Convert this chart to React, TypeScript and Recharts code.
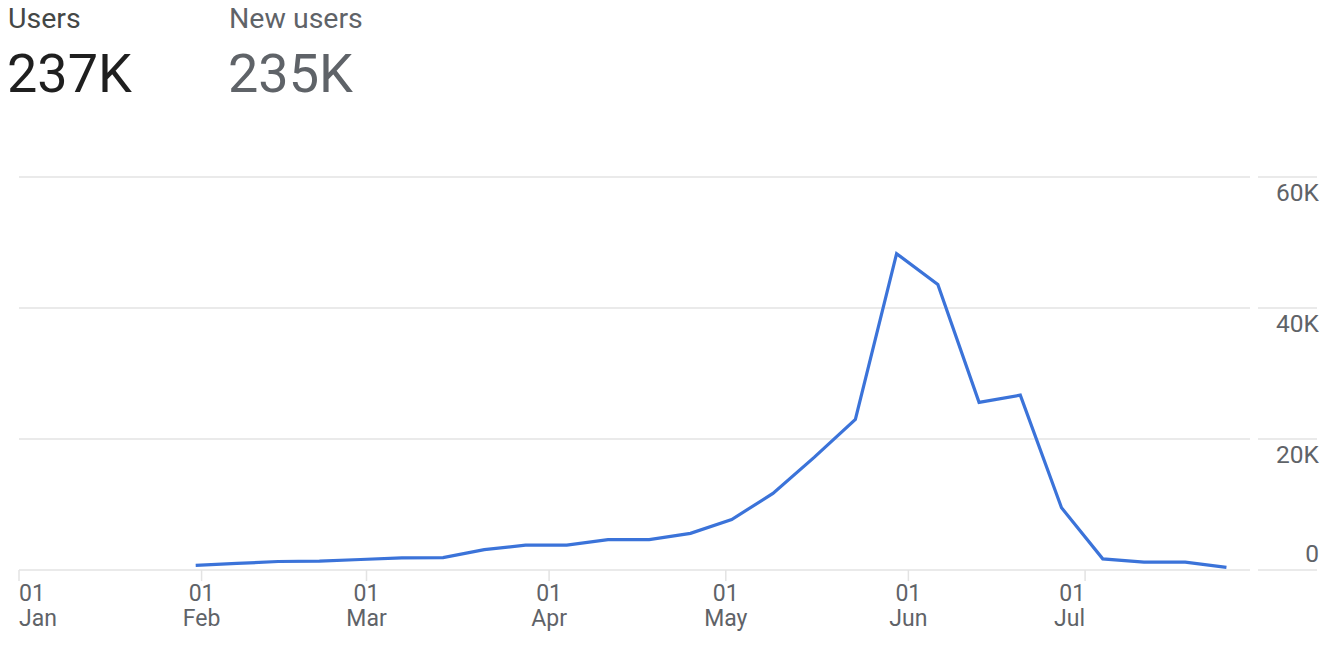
import { LineChart, Line, XAxis, YAxis, CartesianGrid } from "recharts"

// weekly points (month index, day)
const weekDates: [number, number][] = [
  [0, 31], [1, 7], [1, 14], [1, 21], [1, 28],
  [2, 7], [2, 14], [2, 21], [2, 28],
  [3, 4], [3, 11], [3, 18], [3, 25],
  [4, 2], [4, 9], [4, 16], [4, 23], [4, 30],
  [5, 6], [5, 13], [5, 20], [5, 27],
  [6, 4], [6, 11], [6, 18], [6, 25],
]

const users = [
  700, 1000, 1300, 1350, 1600, 1850, 1900, 3100, 3800, 3800, 4650, 4650, 5600,
  7700, 11700, 17200, 23000, 48300, 43600, 25600, 26700, 9500, 1700, 1200, 1200, 400,
]

const monthTicks = [0, 31, 59, 90, 120, 151, 181]
const monthNames = ["Jan", "Feb", "Mar", "Apr", "May", "Jun", "Jul"]
const yTicks = [0, 20000, 40000, 60000]
const yLabels = ["0", "20K", "40K", "60K"]

const dayOfYear = (m: number, d: number) =>
  Math.round((Date.UTC(2023, m, d) - Date.UTC(2023, 0, 1)) / 86400000)

const data = weekDates.map(([m, d], i) => ({ day: dayOfYear(m, d), users: users[i] }))

const PLOT_RIGHT = 1250
const PLOT_BOTTOM = 570
const FONT = "Roboto, 'Noto Sans', sans-serif"
const GRID = "#e3e3e3"
const LABEL = "#5f6368"

function XTick({ x, payload, index }: any) {
  const i = monthTicks.indexOf(payload.value)
  const anchor = index === 0 ? "start" : i === monthTicks.length - 1 ? "end" : "middle"
  return (
    <text x={x} y={PLOT_BOTTOM + 31} textAnchor={anchor} fill={LABEL} fontSize={23} fontFamily={FONT}>
      <tspan x={x}>01</tspan>
      <tspan x={x} dy={25}>
        {monthNames[i]}
      </tspan>
    </text>
  )
}

function YTick({ y, payload }: any) {
  const i = yTicks.indexOf(payload.value)
  const below = payload.value !== 0
  return (
    <g>
      <line x1={PLOT_RIGHT + 8} x2={PLOT_RIGHT + 67} y1={y} y2={y} stroke={GRID} strokeWidth={1.5} />
      <text
        x={PLOT_RIGHT + 69}
        y={below ? y + 24 : y - 8}
        textAnchor="end"
        fill={LABEL}
        fontSize={24.5}
        fontFamily={FONT}
      >
        {yLabels[i]}
      </text>
    </g>
  )
}

export default function App() {
  return (
    <div style={{ position: "absolute", left: 0, top: 0, width: 1340, height: 652, background: "#fff", fontFamily: FONT }}>
      <div style={{ position: "absolute", left: 8, top: 2, fontSize: 28.5, color: "#444746" }}>Users</div>
      <div style={{ position: "absolute", left: 7, top: 42, fontSize: 54, color: "#1f1f1f" }}>237K</div>
      <div style={{ position: "absolute", left: 229, top: 2, fontSize: 28.5, color: "#5f6368" }}>New users</div>
      <div style={{ position: "absolute", left: 228, top: 42, fontSize: 54, color: "#5f6368" }}>235K</div>
      <div style={{ position: "absolute", left: 0, top: 0 }}>
        <LineChart width={1340} height={652} data={data} margin={{ top: 177, right: 0, bottom: 22, left: 19 }}>
          <CartesianGrid vertical={false} stroke={GRID} strokeWidth={1.5} />
          <XAxis
            dataKey="day"
            type="number"
            domain={[0, 209]}
            ticks={monthTicks}
            interval={0}
            axisLine={false}
            tickLine={{ stroke: GRID, strokeWidth: 1.5 }}
            tickSize={11}
            height={60}
            tick={<XTick />}
          />
          <YAxis
            orientation="right"
            domain={[0, 60000]}
            ticks={yTicks}
            axisLine={false}
            tickLine={false}
            width={90}
            tick={<YTick />}
          />
          <Line
            type="linear"
            dataKey="users"
            stroke="#3b73d9"
            strokeWidth={3.2}
            dot={false}
            isAnimationActive={false}
          />
        </LineChart>
      </div>
    </div>
  )
}
